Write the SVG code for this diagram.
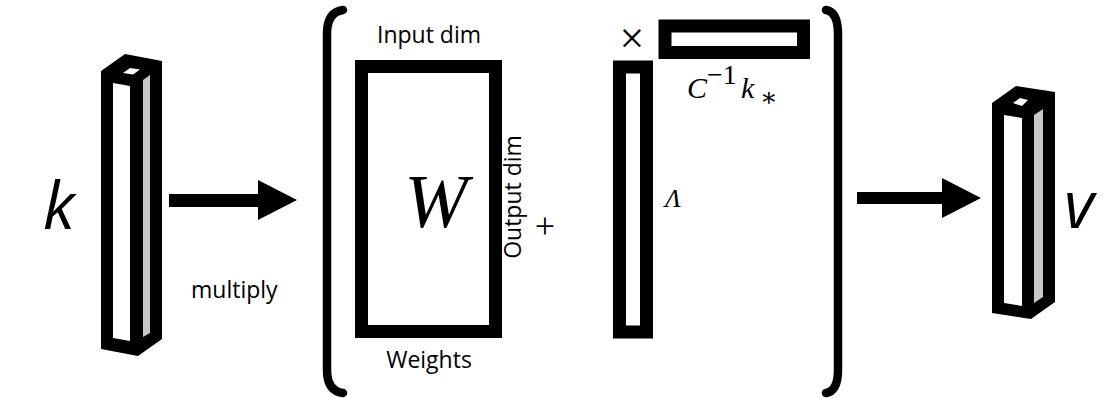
<svg xmlns="http://www.w3.org/2000/svg" width="1119" height="398" viewBox="0 0 1119 398">
<defs>
<style>
.lbl{font-family:"Open Sans","Liberation Sans",sans-serif;font-size:23px;fill:#000}
.big{font-family:"Open Sans","Liberation Sans",sans-serif;font-size:65px;font-style:italic;fill:#000}
.math{font-family:"Liberation Serif","DejaVu Serif",serif;fill:#000}
.box{fill:#fff;stroke:#000;stroke-width:13}
.brk{fill:none;stroke:#000;stroke-width:8.5;stroke-linecap:round}
.blk{fill:#000}
.wht{fill:#fff}
.gry{fill:#c8c8c8}
</style>
</defs>
<rect width="1119" height="398" fill="#fff"/>
<g id="k-label"><text class="big" x="43" y="229">k</text></g>
<g id="k-vector">
<polygon class="blk" points="101,71 125,54 162,61 162,339 138,356 101,349"/>
<polygon class="wht" points="113,83 130,86 130,341 113,338"/>
<polygon class="gry" points="143,80 150,75 150,333 143,337"/>
<polygon class="wht" points="123,73 130,68 140,69.5 133,74.5"/>
</g>
<g id="multiply-label"><text class="lbl" x="191" y="298">multiply</text></g>
<g id="bracket-left"><path class="brk" d="M343,10 Q327,12 327,34 L327,370 Q327,391 343,393"/></g>
<g id="weights">
<rect class="box" x="361.5" y="66.5" width="134" height="265"/>
<text class="lbl" x="429" y="43" text-anchor="middle">Input dim</text>
<text class="lbl" x="429" y="368" text-anchor="middle">Weights</text>
<text class="lbl" text-anchor="middle" transform="translate(521,197) rotate(-90)">Output dim</text>
<text class="math" x="436" y="227" font-size="76" font-style="italic" text-anchor="middle">W</text>
</g>
<g id="plus"><text class="math" x="545" y="238" font-size="36" text-anchor="middle">+</text></g>
<g id="lambda">
<rect class="box" x="619.5" y="67" width="27" height="265"/>
<text class="math" x="665" y="207" font-size="26" font-style="italic">Λ</text>
</g>
<g id="times"><text class="math" x="632" y="53" font-size="44" text-anchor="middle">×</text></g>
<g id="ck-vector">
<rect class="box" x="665" y="26" width="138.5" height="26.5"/>
<text class="math" x="687" y="98" font-size="30" font-style="italic">C<tspan x="707" y="84" font-size="28" font-style="normal">−1</tspan><tspan x="741" y="98">k</tspan><tspan x="760" y="106" font-size="26" font-style="normal">∗</tspan></text>
</g>
<g id="bracket-right"><path class="brk" d="M826,10 Q838,12 838,34 L838,370 Q838,391 826,393"/></g>
<g id="v-vector">
<polygon class="blk" points="992,103 1016,86 1055,92 1055,302 1031,319 992,313"/>
<polygon class="wht" points="1004,115 1022,118 1022,306 1004,303"/>
<polygon class="gry" points="1034,115 1043,109 1043,297 1034,303"/>
<polygon class="wht" points="1013,103 1020,98 1028,100 1022,106"/>
</g>
<g id="v-label"><text class="big" x="1064" y="228">v</text></g>
<g id="connectors">
<polygon class="blk" points="169,194 258,194 258,180 297,200 258,220 258,207 169,207"/>
<polygon class="blk" points="857,192 942,192 942,178 981,198 942,218 942,204 857,204"/>
</g>
</svg>
